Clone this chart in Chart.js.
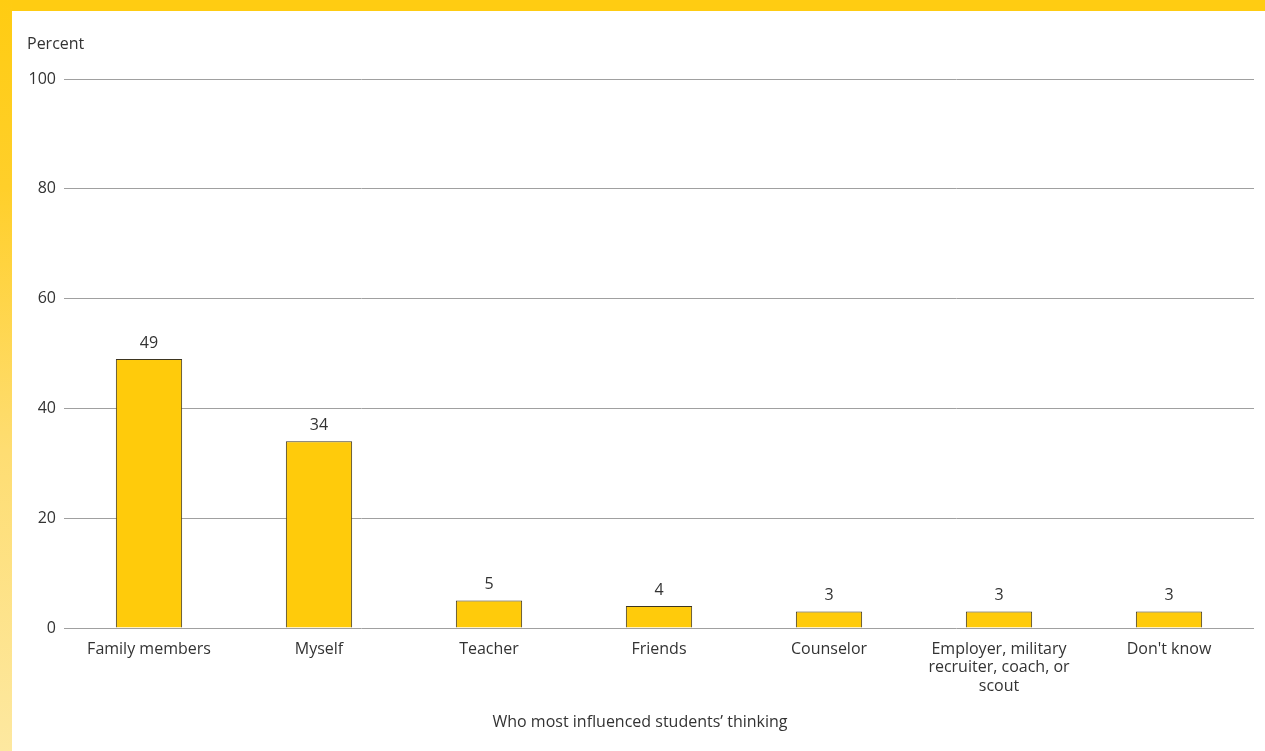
<!DOCTYPE html>
<html>
<head>
<meta charset="utf-8">
<script src="https://cdn.jsdelivr.net/npm/chart.js@4.4.0/dist/chart.umd.min.js"></script>
<style>
  html, body { margin: 0; padding: 0; background: #fff; overflow: hidden; }
  #frame {
    position: relative;
    width: 1265px;
    height: 751px;
    background: #fff;
  }
  #topBand {
    position: absolute; left: 0; top: 0; width: 1265px; height: 11px;
    background: #ffcc12;
  }
  #leftBand {
    position: absolute; left: 0; top: 0; width: 12px; height: 751px;
    background: linear-gradient(#ffcc12 0%, #ffcf2a 25%, #fedd72 60%, #fde8a0 100%);
  }
  #wrap { position: absolute; left: 0; top: 0; width: 1265px; height: 751px; }
</style>
</head>
<body>
<div id="frame">
  <div id="topBand"></div>
  <div id="leftBand"></div>
  <div id="wrap"><canvas id="chart" width="1265" height="751"></canvas></div>
</div>
<script>
// Data
const categories = [
  "Family members",
  "Myself",
  "Teacher",
  "Friends",
  "Counselor",
  ["Employer, military", "recruiter, coach, or", "scout"],
  "Don't know"
];
const percentValues = [49, 34, 5, 4, 3, 3, 3];
const yTicks = [0, 20, 40, 60, 80, 100];
const yAxisLabel = "Percent";
const xAxisLabel = "Who most influenced students\u2019 thinking";

const FONT = "'Open Sans', 'Noto Sans', sans-serif";
const TEXT = "#333333";
const FSIZE = 16;

// value labels above bars, "Percent" heading and the x axis title
const labelPlugin = {
  id: "valueLabels",
  afterDatasetsDraw(chart) {
    const ctx = chart.ctx;
    const meta = chart.getDatasetMeta(0);
    ctx.save();
    ctx.font = FSIZE + "px " + FONT;
    ctx.fillStyle = TEXT;
    ctx.textAlign = "center";
    ctx.textBaseline = "middle";
    meta.data.forEach((bar, i) => {
      ctx.fillText(String(percentValues[i]), bar.x, bar.y - 16);
    });
    ctx.fillText(xAxisLabel, 640, 722);
    ctx.textAlign = "left";
    ctx.fillText(yAxisLabel, 27, 44);
    ctx.restore();
  }
};

new Chart(document.getElementById("chart"), {
  type: "bar",
  data: {
    labels: categories,
    datasets: [{
      data: percentValues,
      backgroundColor: "#ffcb0b",
      borderColor: "#3d3520",
      borderWidth: 1,
      barPercentage: 0.39,
      categoryPercentage: 1.0
    }]
  },
  options: {
    responsive: false,
    animation: false,
    layout: { padding: { top: 79, right: 11, left: 0, bottom: 0 } },
    plugins: {
      legend: { display: false },
      tooltip: { enabled: false }
    },
    scales: {
      x: {
        grid: { display: false, drawTicks: false },
        border: { display: false },
        ticks: {
          color: TEXT,
          font: { family: FONT, size: FSIZE, lineHeight: 1.15 },
          padding: 12,
          maxRotation: 0,
          autoSkip: false
        },
        afterFit(scale) { scale.height = 123; }
      },
      y: {
        min: 0,
        max: 100,
        afterBuildTicks(scale) { scale.ticks = yTicks.map(v => ({ value: v })); },
        grid: { color: "#a0a0a0", lineWidth: 1, drawTicks: false },
        border: { display: false },
        ticks: {
          color: TEXT,
          font: { family: FONT, size: FSIZE },
          padding: 8
        },
        afterFit(scale) { scale.width = 64; }
      }
    }
  },
  plugins: [labelPlugin]
});
</script>
</body>
</html>
